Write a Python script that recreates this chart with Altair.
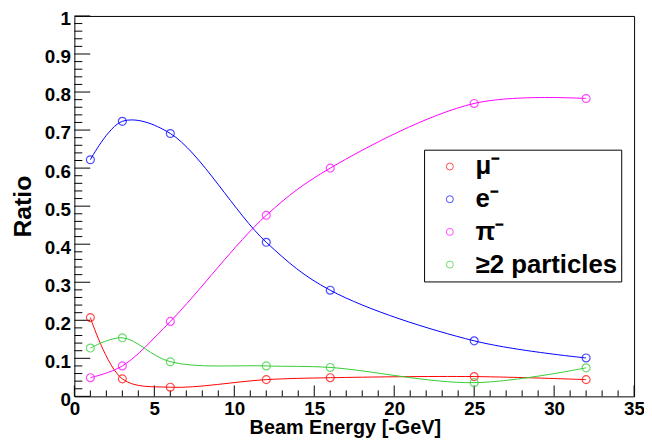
import altair as alt
import pandas as pd

# ---- data ----
energy = [1, 3, 6, 12, 16, 25, 32]
ratio_mu = [0.207, 0.046, 0.024, 0.044, 0.049, 0.052, 0.044]
ratio_e = [0.622, 0.723, 0.691, 0.405, 0.279, 0.146, 0.101]
ratio_pi = [0.049, 0.080, 0.197, 0.476, 0.600, 0.770, 0.783]
ratio_multi = [0.127, 0.154, 0.091, 0.080, 0.076, 0.036, 0.075]

series_names = ["μ⁻", "e⁻", "π⁻", "≥2 particles"]
series_colors = ["#ff0000", "#0000ff", "#ff00ff", "#33cc33"]

y_major = [0, 0.1, 0.2, 0.3, 0.4, 0.5, 0.6, 0.7, 0.8, 0.9, 1]
y_minor = [round(i * 0.02, 2) for i in range(51) if i % 5]
x_major = [0, 5, 10, 15, 20, 25, 30, 35]
x_minor = [i for i in range(36) if i % 5]

W, H = 565, 384
X_MAX, Y_MAX = 35, 1
# inward tick lengths in data units (ROOT-style ticks inside the frame)
YTICK_MAJ, YTICK_MIN = 16 / W * X_MAX, 8 / W * X_MAX
XTICK_MAJ, XTICK_MIN = 11 / H * Y_MAX, 6 / H * Y_MAX

rows = []
for name, vals in zip(series_names, [ratio_mu, ratio_e, ratio_pi, ratio_multi]):
    for e, v in zip(energy, vals):
        rows.append({"kind": "data", "energy": e, "ratio": v, "series": name,
                     "e2": None, "r2": None})
for vals, ln in [(y_major, YTICK_MAJ), (y_minor, YTICK_MIN)]:
    for v in vals:
        rows.append({"kind": "ytick", "energy": 0, "e2": ln, "ratio": v, "r2": None,
                     "series": None})
for vals, ln in [(x_major, XTICK_MAJ), (x_minor, XTICK_MIN)]:
    for v in vals:
        rows.append({"kind": "xtick", "energy": v, "e2": None, "ratio": 0, "r2": ln,
                     "series": None})
df = pd.DataFrame(rows)

FONT = "Liberation Sans"
NB = "\u00a0"

x_enc = alt.X(
    "energy:Q",
    scale=alt.Scale(domain=[0, X_MAX], nice=False, zero=False),
    axis=alt.Axis(
        values=x_major, tickSize=0, domain=False,
        labelPadding=3, labelFont=FONT, labelFontSize=19, labelFontWeight="bold",
        labelColor="black", labelOverlap=False, labelFlush=False,
        title="Beam Energy [-GeV]", titleFont=FONT, titleFontSize=20,
        titleFontWeight="bold", titleColor="black",
        titleX=273, titleY=37, titleBaseline="alphabetic",
        grid=False,
    ),
)
y_enc = alt.Y(
    "ratio:Q",
    scale=alt.Scale(domain=[0, Y_MAX], nice=False),
    axis=alt.Axis(
        values=y_major, format="~g", tickSize=0,
        domain=False, labelPadding=4, labelFont=FONT, labelFontSize=19,
        labelFontWeight="bold", labelColor="black", labelOverlap=False,
        labelFlush=False, labelOffset=3,
        title="Ratio", titleFont=FONT, titleFontSize=25, titleFontWeight="bold",
        titleColor="black", titlePadding=9,
        grid=False,
    ),
)

base = alt.Chart(df)

y_ticks = base.transform_filter("datum.kind == 'ytick'").mark_rule(
    color="black", strokeWidth=1
).encode(x=x_enc, x2="e2:Q", y=y_enc)

x_ticks = base.transform_filter("datum.kind == 'xtick'").mark_rule(
    color="black", strokeWidth=1
).encode(x=x_enc, y=y_enc, y2="r2:Q")

lines = base.transform_filter("datum.kind == 'data'").mark_line(
    strokeWidth=1, interpolate="catmull-rom"
).encode(
    x=x_enc, y=y_enc,
    color=alt.Color(
        "series:N",
        scale=alt.Scale(domain=series_names, range=series_colors),
        legend=alt.Legend(
            title=None, orient="none", legendX=353, legendY=135,
            strokeColor="black", fillColor="white", padding=4,
            symbolType="circle", symbolSize=50, symbolStrokeWidth=1,
            symbolFillColor="transparent", symbolOffset=9,
            rowPadding=7, labelOffset=13, labelFontSize=26, labelColor="black",
            labelFont=FONT, labelFontWeight="bold", labelLimit=400,
            labelExpr=f"datum.label + '{NB * 4}'",
        ),
    ),
)

points = base.transform_filter("datum.kind == 'data'").mark_point(
    shape="circle", filled=False, size=64, strokeWidth=1.2
).encode(x=x_enc, y=y_enc, color=alt.Color("series:N"))

chart = alt.layer(
    y_ticks, x_ticks, lines, points,
).properties(
    width=W, height=H,
    autosize=alt.AutoSizeParams(type="none"),
    padding={"left": 67, "top": 6, "right": 10, "bottom": 40},
).configure_view(stroke="black", strokeWidth=1)

chart.save("out.html", embed_options={"renderer": "svg", "actions": False})
